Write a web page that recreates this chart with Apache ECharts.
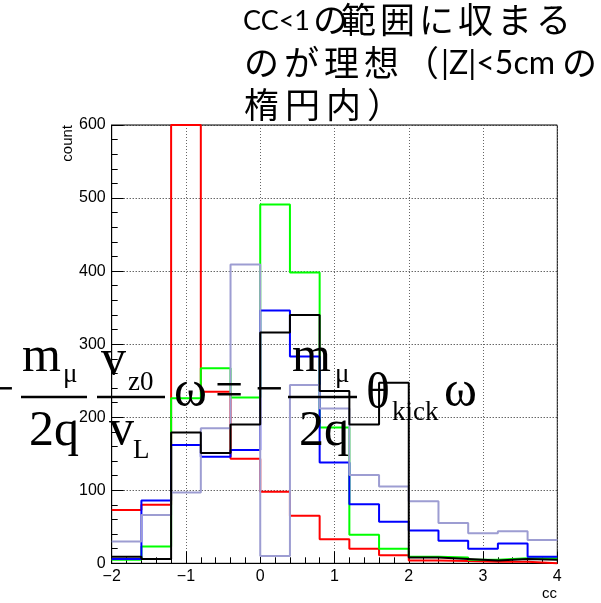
<!DOCTYPE html>
<html>
<head>
<meta charset="utf-8">
<script src="https://cdn.jsdelivr.net/npm/echarts@6/dist/echarts.min.js"></script>
<style>
  html, body { margin: 0; padding: 0; background: #fff; }
  #chart { width: 601px; height: 603px; }
</style>
</head>
<body>
<div id="chart"></div>
<script>
// Bin boundaries of the cc histograms (15 bins, width 0.4)
const binEdges = [-2.0, -1.6, -1.2, -0.8, -0.4, 0.0, 0.4, 0.8, 1.2, 1.6, 2.0, 2.4, 2.8, 3.2, 3.6, 4.0];

// Counts per bin for each sample (the tall red bin runs off the top of the frame)
const redCounts      = [73, 80, 600, 235, 143, 98, 65, 33, 20, 11, 4, 3, 2, 2, 0];
const greenCounts    = [5, 23, 226, 267, 227, 491, 398, 186, 39, 20, 9, 8, 5, 7, 7];
const blueCounts     = [6, 86, 162, 146, 155, 346, 283, 138, 81, 57, 45, 31, 20, 27, 9];
const lavenderCounts = [30, 66, 97, 185, 409, 10, 244, 212, 121, 105, 85, 55, 41, 44, 32];
const blackCounts    = [9, 6, 179, 151, 190, 316, 340, 236, 190, 247, 8, 6, 4, 6, 5];

const seriesColors = ['#ff0000', '#00ff00', '#0000ff', '#9d9dd2', '#000000'];
const seriesCounts = [redCounts, greenCounts, blueCounts, lavenderCounts, blackCounts];

// Axis ranges
const xMin = -2, xMax = 4, xStep = 1;
const yMin = 0, yMax = 600, yStep = 100;

// Step outline: one point at the left edge of every bin plus the final right edge
function histOutline(counts) {
  const pts = counts.map((c, i) => [binEdges[i], c]);
  pts.push([binEdges[counts.length], counts[counts.length - 1]]);
  return pts;
}

const chart = echarts.init(document.getElementById('chart'), null, { renderer: 'canvas' });

const SERIF = 'Liberation Serif';
const MAIN = 50;   // formula body size
const SUB = 27;    // formula subscript size

// Place a text by its baseline (canvas draws it centred on the middle of the em box)
function serifText(str, x, baseline, size) {
  return {
    type: 'text', x: x, y: baseline - 0.3375 * size, z: 100,
    style: { text: str, font: size + 'px "' + SERIF + '"', fill: '#000', align: 'left', verticalAlign: 'middle' }
  };
}
function bar(x1, x2, y) {
  return {
    type: 'line', z: 100,
    shape: { x1: x1, y1: y, x2: x2, y2: y },
    style: { stroke: '#000', lineWidth: 2.5 }
  };
}
function plainText(str, x, yMid, size, family) {
  return {
    type: 'text', x: x, y: yMid, z: 100,
    style: { text: str, font: size + 'px "' + family + '"', fill: '#000', align: 'left', verticalAlign: 'middle' }
  };
}
// Japanese run set on a fixed, slightly loose character pitch
function cjkRun(str, x0, yMid, pitch) {
  return {
    type: 'group', z: 100,
    children: Array.from(str).map((ch, i) => plainText(ch, x0 + i * pitch, yMid, CJK_SIZE, CJK))
  };
}

const CJK = 'Noto Sans CJK JP';
const CJK_SIZE = 35;
const LAT = 'Lato';

const graphics = [
  // note text
  plainText('CC<1', 243, 21, 27, LAT),
  cjkRun('の', 313, 20, 40),
  cjkRun('範囲に収まる', 341, 20, 39),
  cjkRun('のが理想（', 244, 63, 40),
  plainText('|Z|<5cm', 441, 64, 32, LAT),
  cjkRun('の', 562, 63, 40),
  cjkRun('楕円内）', 244, 105, 41),

  // -m/2q * vz0/vL * ω = -m/2q * θkick * ω
  serifText('\u2212', -14, 409, MAIN),
  serifText('m', 22, 375, MAIN),
  serifText('\u03bc', 63, 384, SUB),
  bar(21, 87, 397),
  serifText('2q', 29, 449, MAIN),
  serifText('v', 101, 378, MAIN),
  serifText('z0', 128, 392, SUB),
  bar(97, 165, 397),
  serifText('v', 109, 448, MAIN),
  serifText('L', 133, 460, SUB),
  serifText('\u03c9', 174, 410, MAIN),
  serifText('=', 215, 410, MAIN),
  serifText('\u2212', 255, 409, MAIN),
  serifText('m', 292, 375, MAIN),
  serifText('\u03bc', 335, 384, SUB),
  bar(288, 357, 397),
  serifText('2q', 299, 449, MAIN),
  serifText('\u03b8', 366, 412, MAIN),
  serifText('kick', 392, 422, SUB),
  serifText('\u03c9', 444, 410, MAIN),

  // axis titles
  {
    type: 'text', x: 68, y: 125, rotation: Math.PI / 2, z: 50,
    style: { text: 'count', font: '15px "Liberation Sans"', fill: '#000', align: 'right', verticalAlign: 'middle' }
  },
  {
    type: 'text', x: 557, y: 586, z: 50,
    style: { text: 'cc', font: '15px "Liberation Sans"', fill: '#000', align: 'right', verticalAlign: 'top' }
  }
];

const minusLabel = v => (v < 0 ? '\u2212' + Math.abs(v) : String(v));

chart.setOption({
  animation: false,
  backgroundColor: '#fff',
  grid: {
    left: 111.7, right: 43.7, top: 125, bottom: 39.7,
    containLabel: false, outerBoundsMode: 'none',
    show: true, borderColor: '#000', borderWidth: 1, backgroundColor: 'transparent'
  },
  xAxis: {
    type: 'value', min: xMin, max: xMax, interval: xStep,
    axisLine: { show: true, onZero: false, lineStyle: { color: '#000', width: 1 } },
    axisTick: { show: true, inside: true, length: 12, lineStyle: { color: '#000', width: 1 } },
    minorTick: { show: true, splitNumber: 5, length: 6, lineStyle: { color: '#000', width: 1 } },
    axisLabel: { show: true, margin: 5, color: '#000', fontSize: 16, fontFamily: 'Liberation Sans', formatter: minusLabel },
    splitLine: { show: true, lineStyle: { color: '#666', width: 1, type: [1, 2] } },
    minorSplitLine: { show: false }
  },
  yAxis: {
    type: 'value', min: yMin, max: yMax, interval: yStep,
    axisLine: { show: true, onZero: false, lineStyle: { color: '#000', width: 1 } },
    axisTick: { show: true, inside: true, length: 12, lineStyle: { color: '#000', width: 1 } },
    minorTick: { show: true, splitNumber: 5, length: 6, lineStyle: { color: '#000', width: 1 } },
    axisLabel: { show: true, margin: 6, color: '#000', fontSize: 16, fontFamily: 'Liberation Sans' },
    splitLine: { show: true, lineStyle: { color: '#222', width: 1, type: [1, 2] } },
    minorSplitLine: { show: false }
  },
  series: seriesCounts.map((counts, i) => ({
    type: 'line',
    step: 'end',
    data: histOutline(counts),
    symbol: 'none',
    clip: false,
    z: 2 + i,
    lineStyle: { color: seriesColors[i], width: 2 },
    silent: true
  })),
  graphic: graphics
});
</script>
</body>
</html>
